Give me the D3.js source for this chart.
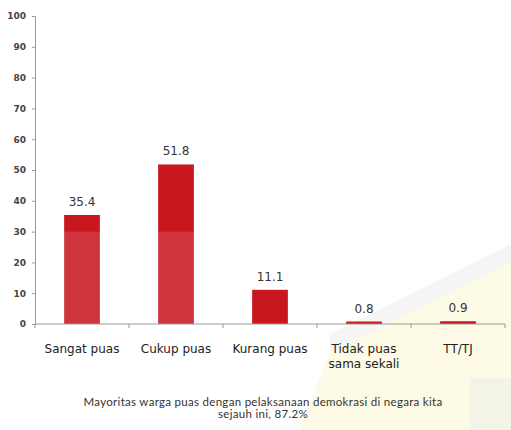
<!DOCTYPE html>
<html>
<head>
<meta charset="utf-8">
<script src="https://cdn.jsdelivr.net/npm/d3@7"></script>
<style>
  body { margin: 0; background: #fff; }
  svg { display: block; }
</style>
</head>
<body>
<div id="chart"></div>
<script>
const categories = [["Sangat puas"], ["Cukup puas"], ["Kurang puas"], ["Tidak puas", "sama sekali"], ["TT/TJ"]];
const values = [35.4, 51.8, 11.1, 0.8, 0.9];
const yTicks = [0, 10, 20, 30, 40, 50, 60, 70, 80, 90, 100];
const caption = ["Mayoritas warga puas dengan pelaksanaan demokrasi di negara kita", "sejauh ini, 87.2%"];

const width = 511, height = 430;
const margin = { top: 16, right: 6, bottom: 106, left: 35 };

const svg = d3.select("#chart").append("svg")
  .attr("width", width)
  .attr("height", height);

// faint watermark in the background
svg.append("polygon")
  .attr("points", "511,262 330,352 300,430 511,430")
  .attr("fill", "#fdfbe6");
svg.append("polygon")
  .attr("points", "511,244 330,334 330,352 511,262")
  .attr("fill", "#ececec").attr("opacity", 0.55);
svg.append("rect")
  .attr("x", 470).attr("y", 378).attr("width", 41).attr("height", 52)
  .attr("fill", "#eeeeea").attr("opacity", 0.6);

const x = d3.scaleBand()
  .domain(d3.range(categories.length))
  .range([margin.left, width - margin.right])
  .paddingInner(0.62)
  .paddingOuter(0.31);

const y = d3.scaleLinear()
  .domain([0, 100])
  .range([height - margin.bottom, margin.top]);

// bars
svg.selectAll(".bar")
  .data(values)
  .enter()
  .append("rect")
  .attr("class", "bar")
  .attr("x", (d, i) => x(i))
  .attr("y", d => y(d))
  .attr("width", x.bandwidth())
  .attr("height", d => y(0) - y(d))
  .attr("fill", "#c8171f");

// lighter band of the watermark over the lower part of the bars
svg.append("rect")
  .attr("x", margin.left + 1)
  .attr("y", y(30))
  .attr("width", 200)
  .attr("height", y(0) - y(30))
  .attr("fill", "#fff")
  .attr("opacity", 0.13);

// value labels
svg.selectAll(".val")
  .data(values)
  .enter()
  .append("text")
  .attr("class", "val")
  .attr("x", (d, i) => x(i) + x.bandwidth() / 2)
  .attr("y", d => y(d) - 9)
  .attr("text-anchor", "middle")
  .attr("font-family", "DejaVu Sans")
  .attr("font-size", 12)
  .attr("fill", "#333")
  .text(d => d.toFixed(1));

// y axis
const yAxis = svg.append("g")
  .attr("transform", `translate(${margin.left},0)`)
  .call(d3.axisLeft(y).tickValues(yTicks).tickSize(3).tickPadding(6));
yAxis.selectAll("path, line").attr("stroke", "#999");
yAxis.selectAll("text")
  .attr("font-family", "DejaVu Sans")
  .attr("font-size", 9)
  .attr("font-weight", "bold")
  .attr("fill", "#444");

// x axis line + boundary ticks
const xAxis = svg.append("g");
xAxis.append("line")
  .attr("x1", margin.left).attr("x2", width - margin.right)
  .attr("y1", y(0)).attr("y2", y(0))
  .attr("stroke", "#999");
xAxis.selectAll(".xt")
  .data(d3.range(categories.length + 1))
  .enter()
  .append("line")
  .attr("x1", i => margin.left + i * x.step())
  .attr("x2", i => margin.left + i * x.step())
  .attr("y1", y(0)).attr("y2", y(0) + 4)
  .attr("stroke", "#999");

// category labels
const cat = svg.selectAll(".cat")
  .data(categories)
  .enter()
  .append("text")
  .attr("class", "cat")
  .attr("x", (d, i) => x(i) + x.bandwidth() / 2)
  .attr("y", y(0) + 29)
  .attr("text-anchor", "middle")
  .attr("font-family", "DejaVu Sans")
  .attr("font-size", 12)
  .attr("fill", "#222");
cat.selectAll("tspan")
  .data(d => d)
  .enter()
  .append("tspan")
  .attr("x", function () { return this.parentNode.getAttribute("x"); })
  .attr("dy", (d, i) => i === 0 ? 0 : 15)
  .text(d => d);

// caption
svg.append("text")
  .attr("x", 263)
  .attr("y", 406)
  .attr("text-anchor", "middle")
  .attr("font-family", "Lato")
  .attr("font-size", 11.5)
  .attr("letter-spacing", 0.3)
  .attr("fill", "#333")
  .selectAll("tspan")
  .data(caption)
  .enter()
  .append("tspan")
  .attr("x", 263)
  .attr("dy", (d, i) => i === 0 ? 0 : 12)
  .text(d => d);
</script>
</body>
</html>
